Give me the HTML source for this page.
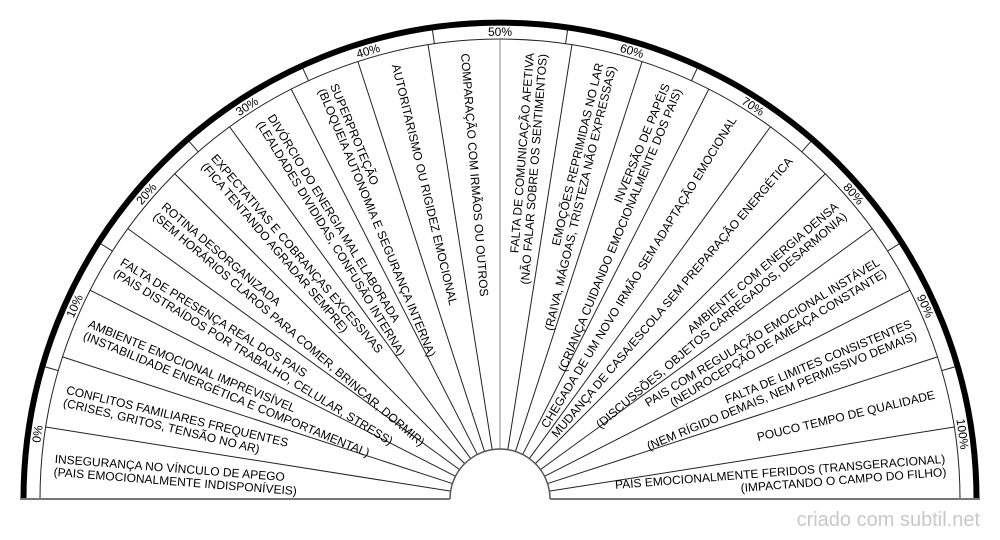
<!DOCTYPE html>
<html><head><meta charset="utf-8"><style>
html,body{margin:0;padding:0;background:#fff;}
svg{display:block;}
text{font-family:"Liberation Sans",Arial,sans-serif;fill:#000;}
</style></head><body>
<svg id="s" width="1000" height="540" viewBox="0 0 1000 540" xmlns="http://www.w3.org/2000/svg">
<rect width="1000" height="540" fill="#fff"/>
<g id="lines" stroke="#222" stroke-width="1" fill="none"></g>
<path d="M23.5 499 A476.5 476.5 0 0 1 976.5 499" stroke="#000" stroke-width="6" fill="none"/>
<path d="M40 499 A460 460 0 0 1 960 499" stroke="#222" stroke-width="1" fill="none"/>
<path d="M450 499 A50 50 0 0 1 550 499" stroke="#555" stroke-width="1.5" fill="none"/>
<line x1="20" y1="499" x2="450" y2="499" stroke="#777" stroke-width="2"/>
<line x1="550" y1="499" x2="980" y2="499" stroke="#777" stroke-width="2"/>
<g id="txt" font-size="12"></g>
<text x="980" y="526" font-size="20" text-anchor="end" style="fill:#c8c8c8">criado com subtil.net</text>
</svg>
<script>
var NS="http://www.w3.org/2000/svg",cx=500,cy=499;
var L=document.getElementById('lines'),T=document.getElementById('txt');
function ln(a,r1,r2,col){var e=document.createElementNS(NS,'line');var c=Math.cos(a*Math.PI/180),s=Math.sin(a*Math.PI/180);
e.setAttribute('x1',cx+r1*c);e.setAttribute('y1',cy-r1*s);e.setAttribute('x2',cx+r2*c);e.setAttribute('y2',cy-r2*s);if(col)e.setAttribute('stroke',col);L.appendChild(e);}
for(var k=1;k<20;k++){ln(k*9,50,460,k==10?'#888':null);}
for(var k=0;k<10;k++){ln(172-16.4*k-8.2,460,474);}
for(var k=0;k<=10;k++){var p=172-16.4*k;var g=document.createElementNS(NS,'g');g.setAttribute('transform','translate(500,499) rotate('+(90-p)+')');
var t=document.createElementNS(NS,'text');t.setAttribute('x',0);t.setAttribute('y',-463);t.setAttribute('text-anchor','middle');t.textContent=(k*10)+'%';g.appendChild(t);T.appendChild(g);}
var labs=[
["INSEGURANÇA NO VÍNCULO DE APEGO","(PAIS EMOCIONALMENTE INDISPONÍVEIS)"],
["CONFLITOS FAMILIARES FREQUENTES","(CRISES, GRITOS, TENSÃO NO AR)"],
["AMBIENTE EMOCIONAL IMPREVISÍVEL","(INSTABILIDADE ENERGÉTICA E COMPORTAMENTAL)"],
["FALTA DE PRESENÇA REAL DOS PAIS","(PAIS DISTRAÍDOS POR TRABALHO, CELULAR, STRESS)"],
["ROTINA DESORGANIZADA","(SEM HORÁRIOS CLAROS PARA COMER, BRINCAR, DORMIR)"],
["EXPECTATIVAS E COBRANÇAS EXCESSIVAS","(FICA TENTANDO AGRADAR SEMPRE)"],
["DIVÓRCIO DO ENERGIA MAL ELABORADA","(LEALDADES DIVIDIDAS, CONFUSÃO INTERNA)"],
["SUPERPROTEÇÃO","(BLOQUEIA AUTONOMIA E SEGURANÇA INTERNA)"],
["AUTORITARISMO OU RIGIDEZ EMOCIONAL"],
["COMPARAÇÃO COM IRMÃOS OU OUTROS"],
["FALTA DE COMUNICAÇÃO AFETIVA","(NÃO FALAR SOBRE OS SENTIMENTOS)"],
["EMOÇÕES REPRIMIDAS NO LAR","(RAIVA, MÁGOAS, TRISTEZA NÃO EXPRESSAS)"],
["INVERSÃO DE PAPÉIS","(CRIANÇA CUIDANDO EMOCIONALMENTE DOS PAIS)"],
["CHEGADA DE UM NOVO IRMÃO SEM ADAPTAÇÃO EMOCIONAL"],
["MUDANÇA DE CASA/ESCOLA SEM PREPARAÇÃO ENERGÉTICA"],
["AMBIENTE COM ENERGIA DENSA","(DISCUSSÕES, OBJETOS CARREGADOS, DESARMONIA)"],
["PAIS COM REGULAÇÃO EMOCIONAL INSTÁVEL","(NEUROCEPÇÃO DE AMEAÇA CONSTANTE)"],
["FALTA DE LIMITES CONSISTENTES","(NEM RÍGIDO DEMAIS, NEM PERMISSIVO DEMAIS)"],
["POUCO TEMPO DE QUALIDADE"],
["PAIS EMOCIONALMENTE FERIDOS (TRANSGERACIONAL)","(IMPACTANDO O CAMPO DO FILHO)"]];
for(var i=0;i<20;i++){var p=175.5-9*i,left=p>90;var g=document.createElementNS(NS,'g');
g.setAttribute('transform','translate(500,499) rotate('+(left?180-p:-p)+')');
var ys=labs[i].length==2?[-1,12]:[4];
for(var j=0;j<labs[i].length;j++){var t=document.createElementNS(NS,'text');t.setAttribute('x',left?-447:447);t.setAttribute('y',ys[j]);
t.setAttribute('text-anchor',left?'start':'end');t.textContent=labs[i][j];g.appendChild(t);}
T.appendChild(g);}
</script>
</body></html>
